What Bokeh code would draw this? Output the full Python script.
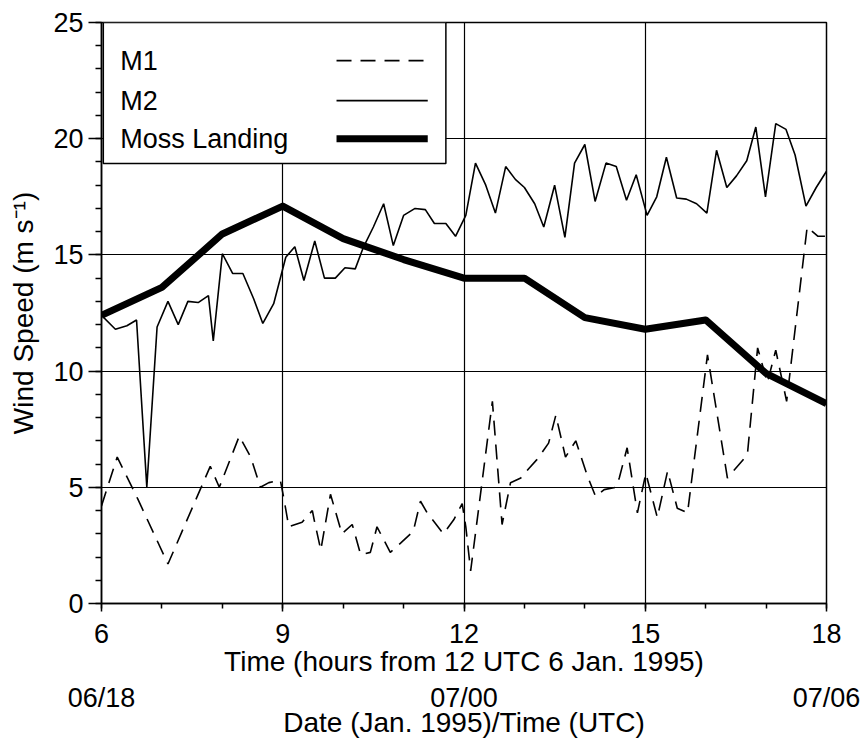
from bokeh.plotting import figure
from bokeh.models import (LinearAxis, FixedTicker, SingleIntervalTicker, BoxAnnotation,
                          Label, Arrow, Range1d)
from bokeh.embed import file_html
from bokeh.resources import INLINE

# ---------------- data (hours from 12 UTC 6 Jan 1995, wind speed m/s) ----------------
m1_t = [6.0, 6.26, 6.6, 7.1, 7.8, 7.95, 8.28, 8.47, 8.63, 8.77, 8.96, 9.02, 9.1, 9.32,
        9.49, 9.52, 9.63, 9.79, 9.98, 10.15, 10.29, 10.45, 10.56, 10.78, 10.95, 11.16,
        11.28, 11.39, 11.66, 11.83, 11.97, 12.03, 12.11, 12.47, 12.63, 12.77, 12.94,
        13.07, 13.21, 13.4, 13.52, 13.68, 13.85, 14.04, 14.18, 14.32, 14.51, 14.57,
        14.7, 14.87, 15.01, 15.2, 15.37, 15.53, 15.7, 16.03, 16.36, 16.69, 16.86,
        17.02, 17.16, 17.34, 17.68, 17.86, 18.0]
m1_v = [4.2, 6.3, 4.5, 1.7, 5.9, 5.0, 7.2, 6.3, 5.0, 5.2, 5.3, 4.5, 3.3, 3.5,
        4.0, 3.6, 2.3, 4.7, 3.0, 3.4, 2.1, 2.2, 3.3, 2.2, 2.6, 3.1,
        4.4, 3.9, 3.0, 3.6, 4.3, 3.3, 1.4, 8.7, 3.4, 5.2, 5.4,
        5.8, 6.2, 6.9, 8.1, 6.3, 7.0, 5.5, 4.6, 4.9, 5.0, 5.4,
        6.7, 3.9, 5.6, 3.7, 5.7, 4.1, 3.9, 10.7, 5.4, 6.4, 11.0,
        9.5, 10.9, 8.7, 16.2, 15.8, 15.8]

m2_t = [6.0, 6.23, 6.42, 6.58, 6.75, 6.92, 7.1, 7.27, 7.43, 7.6, 7.77, 7.85, 8.0,
        8.17, 8.34, 8.52, 8.67, 8.85, 9.05, 9.2, 9.35, 9.53, 9.69, 9.87, 10.03,
        10.2, 10.33, 10.5, 10.67, 10.83, 11.0, 11.19, 11.36, 11.51, 11.7, 11.86,
        12.03, 12.19, 12.36, 12.52, 12.69, 12.85, 13.0, 13.17, 13.32, 13.5, 13.67,
        13.83, 14.0, 14.17, 14.35, 14.52, 14.69, 14.85, 15.03, 15.19, 15.35, 15.52,
        15.68, 15.85, 16.02, 16.18, 16.35, 16.51, 16.68, 16.83, 16.99, 17.16,
        17.33, 17.48, 17.66, 17.83, 18.0]
m2_v = [12.4, 11.8, 11.95, 12.2, 5.0, 11.9, 13.0, 12.0, 13.0, 12.95, 13.25, 11.3, 15.05,
        14.2, 14.2, 13.1, 12.05, 12.9, 14.9, 15.35, 13.9, 15.6, 14.0, 14.0, 14.45,
        14.4, 15.3, 16.2, 17.2, 15.4, 16.7, 17.0, 16.95, 16.35, 16.35, 15.8,
        16.7, 18.95, 18.0, 16.8, 18.8, 18.25, 17.9, 17.2, 16.2, 18.0, 15.75,
        18.95, 19.75, 17.3, 18.95, 18.8, 17.35, 18.45, 16.7, 17.5, 19.2, 17.45,
        17.4, 17.2, 16.8, 19.5, 17.9, 18.4, 19.05, 20.5, 17.5, 20.65,
        20.4, 19.3, 17.1, 17.9, 18.6]

ml_t = [6, 7, 8, 9, 10, 11, 12, 13, 14, 15, 16, 17, 18]
ml_v = [12.4, 13.6, 15.9, 17.1, 15.7, 14.8, 14.0, 14.0, 12.3, 11.8, 12.2, 9.9, 8.6]

series_names = ["M1", "M2", "Moss Landing"]
date_ticks = [6, 12, 18]
date_labels = ["06/18", "07/00", "07/06"]

FONT = "Liberation Sans"
FS = "27px"
FS_LAB = "28px"

p = figure(width=864, height=747, x_range=Range1d(6, 18), y_range=Range1d(0, 25),
           output_backend="svg", toolbar_location=None,
           min_border_left=101, min_border_right=38, min_border_top=22,
           min_border_bottom=144, background_fill_color="white",
           border_fill_color="white")

p.outline_line_color = "black"
p.outline_line_width = 1.5
p.outline_line_alpha = 1.0

p.grid.grid_line_color = "black"
p.grid.grid_line_width = 1.2
p.grid.grid_line_alpha = 1.0

# x axis (hours)
xa = p.xaxis[0]
xa.ticker = SingleIntervalTicker(interval=3, num_minor_ticks=3)
xa.axis_label = "Time (hours from 12 UTC 6 Jan. 1995)"
# y axis
ya = p.yaxis[0]
ya.ticker = SingleIntervalTicker(interval=5, num_minor_ticks=5)
ya.axis_label = "Wind Speed (m s\u207b\u00b9)"

for ax in (xa, ya):
    ax.axis_line_color = "black"
    ax.axis_line_width = 1.5
    ax.major_tick_line_color = "black"
    ax.minor_tick_line_color = "black"
    ax.major_tick_line_width = 1.5
    ax.minor_tick_line_width = 1.5
    ax.major_tick_in = 0
    ax.minor_tick_in = 0
    ax.major_label_text_font = FONT
    ax.major_label_text_font_size = FS
    ax.major_label_text_color = "black"
    ax.axis_label_text_font = FONT
    ax.axis_label_text_font_size = FS_LAB
    ax.axis_label_text_font_style = "normal"
    ax.axis_label_text_color = "black"

xa.major_tick_out = 8
xa.minor_tick_out = 5
xa.major_label_standoff = 12
xa.axis_label_standoff = 0

ya.major_tick_out = 13
ya.minor_tick_out = 6
ya.major_label_standoff = 5
ya.axis_label_standoff = 11

# second x axis: date/time
xa2 = LinearAxis(ticker=FixedTicker(ticks=date_ticks),
                 major_label_overrides={t: l for t, l in zip(date_ticks, date_labels)},
                 axis_label="Date (Jan. 1995)/Time (UTC)",
                 axis_line_color=None, major_tick_line_color=None,
                 minor_tick_line_color=None, major_tick_out=0, major_tick_in=0,
                 major_label_standoff=3, axis_label_standoff=-9,
                 major_label_text_font=FONT, major_label_text_font_size=FS,
                 major_label_text_color="black",
                 axis_label_text_font=FONT, axis_label_text_font_size=FS_LAB,
                 axis_label_text_font_style="normal", axis_label_text_color="black")
p.add_layout(xa2, "below")

# data lines
p.line(m1_t, m1_v, line_color="black", line_width=1.6, line_dash="15 9")
p.line(m2_t, m2_v, line_color="black", line_width=1.6)
p.line(ml_t, ml_v, line_color="black", line_width=7, line_join="round")

# legend (labels on the left, line samples on the right)
box = BoxAnnotation(left=6.03, right=11.70, bottom=18.93, top=25,
                    fill_color="white", fill_alpha=1.0,
                    line_color="black", line_width=1.5, line_alpha=1.0)
p.add_layout(box)

leg_y = [23.36, 21.64, 20.0]
leg_dash = ["15 9", "solid", "solid"]
leg_w = [1.6, 1.6, 7]
for name, yy, dash, w in zip(series_names, leg_y, leg_dash, leg_w):
    p.add_layout(Label(x=6.31, y=yy, text=name, text_baseline="middle",
                       text_align="left", text_font=FONT, text_font_size=FS,
                       text_color="black"))
    p.add_layout(Arrow(x_start=9.89, y_start=yy, x_end=11.4, y_end=yy, end=None,
                       line_color="black", line_width=w, line_dash=dash))

open("out.html", "w").write(file_html(p, INLINE))
